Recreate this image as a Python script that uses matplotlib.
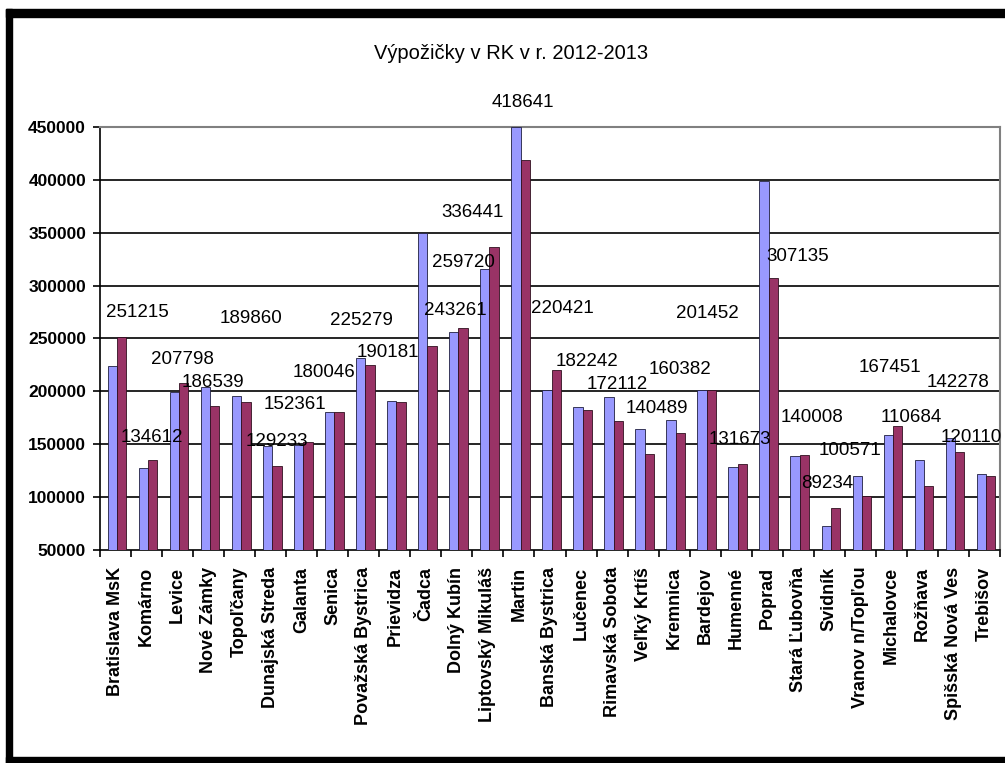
import numpy as np
import matplotlib.pyplot as plt
from matplotlib.patches import Rectangle

plt.rcParams['font.family'] = ['Liberation Sans', 'DejaVu Sans']

# okresy / regionalne kniznice
regions = ["Bratislava MsK", "Komárno", "Levice", "Nové Zámky", "Topoľčany",
           "Dunajská Streda", "Galanta", "Senica", "Považská Bystrica", "Prievidza",
           "Čadca", "Dolný Kubín", "Liptovský Mikuláš", "Martin", "Banská Bystrica",
           "Lučenec", "Rimavská Sobota", "Veľký Krtíš", "Kremnica", "Bardejov",
           "Humenné", "Poprad", "Stará Ľubovňa", "Svidník", "Vranov n/Topľou",
           "Michalovce", "Rožňava", "Spišská Nová Ves", "Trebišov"]

# 2012 - odcitane z grafu
loans_2012 = [224200, 127200, 199600, 204400, 195900, 148000, 149500, 180100,
              231800, 191100, 349900, 255700, 315300, 449500, 201200, 185500,
              194300, 164400, 172900, 201200, 128700, 399100, 138900, 73000,
              119900, 158700, 135100, 156100, 121500]

# 2013
loans_2013 = [251215, 134612, 207798, 186539, 189860, 129233, 152361, 180046,
              225279, 190181, 243261, 259720, 336441, 418641, 220421, 182242,
              172112, 140489, 160382, 201452, 131673, 307135, 140008, 89234,
              100571, 167451, 110684, 142278, 120110]

# kde su popisky v povodnom grafe (posun v kategoriach, vyska v hodnotach osi)
label_dx = [0.69, 0.18, 0.17, 0.14, 0.37, 0.20, -0.22, -0.28, -0.06, -0.22,
            0.94, 0.20, -0.48, 0.13, 0.39, 0.19, 0.16, 0.45, 0.19, 0.06,
            0.13, 0.99, 0.45, -0.07, -0.33, -0.04, -0.36, 0.15, -0.42]
label_y = [275000, 156800, 230500, 208800, 269300, 153000, 187100, 218200,
           267400, 237200, 276800, 322200, 369500, 473500, 278700, 228600,
           206900, 184200, 221100, 274000, 154900, 327900, 175700, 113300,
           144500, 223000, 174800, 208800, 156800]

y_ticks = np.arange(50000, 450001, 50000)


def main():
    fig = plt.figure(figsize=(10.05, 7.63), dpi=100)
    ax = fig.add_axes([0.0995, 0.2792, 0.8955, 0.5544])

    x = np.arange(len(regions))
    w = 0.3
    ax.bar(x - w / 2 + 0.05, loans_2012, w, bottom=0, color="#9999FF",
           edgecolor="#202040", linewidth=0.6, zorder=3)
    ax.bar(x + w / 2 + 0.05, loans_2013, w, bottom=0, color="#993366",
           edgecolor="#301020", linewidth=0.6, zorder=3)

    for i, val in enumerate(loans_2013):
        ax.text(i + label_dx[i], label_y[i], str(val), ha="center", va="center",
                fontsize=13.5, color="black", zorder=5, clip_on=False)

    ax.set_xlim(-0.5, len(regions) - 0.5)
    ax.set_ylim(50000, 450000)
    ax.set_yticks(y_ticks)
    ax.set_yticklabels([str(t) for t in y_ticks], fontsize=12.5, fontweight="bold")
    for t in y_ticks[1:-1]:
        ax.axhline(t, color="black", linewidth=1.2, zorder=1)

    ax.set_xticks(x)
    ax.set_xticklabels(regions, rotation=90, fontsize=13, fontweight="bold",
                       va="top", ha="center")
    ax.set_xticks(np.arange(-0.5, len(regions)), minor=True)
    ax.tick_params(axis="x", which="major", length=0, pad=12)
    ax.tick_params(axis="x", which="minor", length=5, width=1.2, direction="out")
    ax.tick_params(axis="y", length=5, width=1.2, direction="out", pad=5)

    ax.spines["left"].set_color("black")
    ax.spines["left"].set_linewidth(1.2)
    ax.spines["bottom"].set_color("black")
    ax.spines["bottom"].set_linewidth(1.2)
    ax.spines["top"].set_color("#808080")
    ax.spines["top"].set_linewidth(1.5)
    ax.spines["right"].set_color("#808080")
    ax.spines["right"].set_linewidth(1.5)

    fig.text(0.509, 0.930, "Výpožičky v RK v r. 2012-2013", ha="center",
             va="center", fontsize=14.5)

    # cierny ram okolo obrazka
    W, H = 1005, 763
    for (x0, y0, bw, bh) in [(6, 9, 6, 754), (6, 9, 999, 8), (6, 757, 999, 6)]:
        fig.patches.append(Rectangle((x0 / W, 1 - (y0 + bh) / H), bw / W, bh / H,
                                     transform=fig.transFigure, color="black",
                                     zorder=10))

    fig.savefig("out.png", dpi=100)


if __name__ == "__main__":
    main()
